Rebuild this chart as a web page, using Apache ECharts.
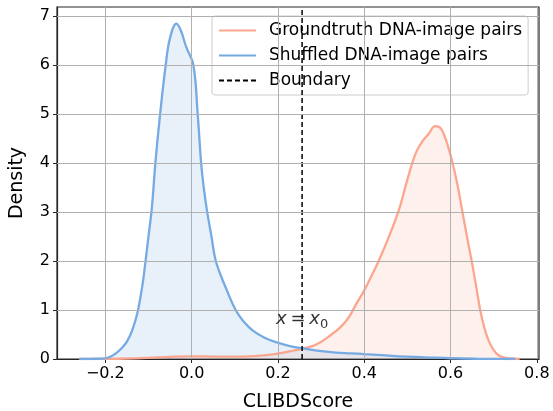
<!DOCTYPE html>
<html>
<head>
<meta charset="utf-8">
<script src="https://cdn.jsdelivr.net/npm/echarts@6/dist/echarts.min.js"></script>
<style>html,body{margin:0;padding:0;background:#fff}#c{width:553px;height:411px}</style>
</head>
<body>
<div id="c"></div>
<script>
// ---- data ----
var xTicks = [-0.2, 0.0, 0.2, 0.4, 0.6, 0.8];
var yTicks = [0, 1, 2, 3, 4, 5, 6, 7];
var boundaryX = 0.256;
var annotation = { x: 0.256, y: 0.8 };

var shuffledX = [-0.26,-0.22,-0.198,-0.185,-0.172,-0.16,-0.149,-0.138,-0.126,-0.115,-0.107,-0.1,-0.092,-0.084,-0.073,-0.06,-0.05,-0.035,-0.025,-0.012,0.004,0.014,0.022,0.028,0.036,0.046,0.056,0.077,0.102,0.122,0.142,0.17,0.197,0.225,0.254,0.29,0.334,0.37,0.40,0.44,0.48,0.54,0.60,0.66,0.75];
var shuffledY = [0,0.005,0.02,0.06,0.14,0.24,0.37,0.58,0.93,1.45,1.98,2.5,3.1,4.0,5.0,6.0,6.55,6.84,6.7,6.35,6.0,5.0,4.0,3.5,3.0,2.5,2.0,1.5,1.0,0.75,0.58,0.43,0.34,0.27,0.22,0.17,0.13,0.115,0.10,0.08,0.055,0.035,0.015,0.005,0];

var groundX = [-0.26,-0.2,-0.15,-0.1,-0.05,0.0,0.05,0.11,0.16,0.2,0.23,0.257,0.29,0.327,0.345,0.365,0.38,0.40,0.417,0.434,0.457,0.48,0.495,0.511,0.522,0.534,0.55,0.564,0.572,0.58,0.592,0.603,0.615,0.627,0.638,0.65,0.66,0.669,0.678,0.688,0.70,0.711,0.725,0.742,0.76];
var groundY = [0,0.003,0.01,0.025,0.045,0.055,0.05,0.05,0.07,0.11,0.16,0.21,0.3,0.52,0.65,0.86,1.1,1.40,1.7,2.01,2.49,3.03,3.5,3.99,4.25,4.43,4.6,4.75,4.74,4.67,4.4,4.06,3.6,3.03,2.5,1.95,1.45,0.99,0.65,0.38,0.18,0.075,0.03,0.01,0];

function zip(a, b) { return a.map(function (v, i) { return [v, b[i]]; }); }

var chart = echarts.init(document.getElementById('c'), null, { renderer: 'canvas' });
var FONT = 'DejaVu Sans';
var option = {
  animation: false,
  textStyle: { fontFamily: FONT },
  grid: { left: 57, right: 14, top: 7, bottom: 52, outerBoundsMode: 'none', containLabel: false,
    show: true, borderColor: '#262626', borderWidth: 1.2, backgroundColor: 'transparent' },
  legend: {
    orient: 'vertical', left: 212, top: 16,
    padding: [6, 6, 6, 6],
    itemWidth: 37, itemHeight: 14, itemGap: 8,
    itemStyle: { opacity: 0 },
    backgroundColor: 'rgba(255,255,255,0.8)', borderColor: '#cccccc', borderWidth: 1, borderRadius: 3,
    textStyle: { fontFamily: FONT, fontSize: 17, color: '#000', padding: [0, 0, 0, 8] },
    data: ['Groundtruth DNA-image pairs', 'Shuffled DNA-image pairs', 'Boundary']
  },
  xAxis: {
    type: 'value', min: -0.312, max: 0.805,
    name: 'CLIBDScore', nameLocation: 'middle', nameGap: 34,
    nameTextStyle: { fontFamily: FONT, fontSize: 19, color: '#000' },
    axisLine: { show: true, onZero: false, lineStyle: { color: '#262626', width: 1.2 } },
    axisTick: { show: true, length: 4, lineStyle: { color: '#262626' }, customValues: xTicks },
    axisLabel: { fontFamily: FONT, fontSize: 16, color: '#000', margin: 7, customValues: xTicks,
      formatter: function (v) { return (v < 0 ? '\u2212' : '') + Math.abs(v).toFixed(1); } },
    splitLine: { show: false }
  },
  yAxis: {
    type: 'value', min: 0, max: 7.18,
    name: 'Density', nameLocation: 'middle', nameGap: 30,
    nameTextStyle: { fontFamily: FONT, fontSize: 19, color: '#000' },
    axisLine: { show: true, onZero: false, lineStyle: { color: '#262626', width: 1.2 } },
    axisTick: { show: true, length: 4, lineStyle: { color: '#262626' }, customValues: yTicks },
    axisLabel: { fontFamily: FONT, fontSize: 16, color: '#000', margin: 7, customValues: yTicks },
    splitLine: { show: false }
  },
  series: [
    {
      name: 'Groundtruth DNA-image pairs', type: 'line', data: zip(groundX, groundY),
      smooth: 0.4, showSymbol: false, symbol: 'none',
      lineStyle: { color: '#fca68f', width: 2.3 }, itemStyle: { color: '#fca68f' },
      areaStyle: { color: 'rgba(252,166,143,0.24)' }, z: 3,
      markLine: {
        silent: true, symbol: 'none', label: { show: false },
        lineStyle: { color: '#b0b0b0', width: 1, type: 'solid' },
        data: xTicks.map(function (v) { return { xAxis: v }; }).concat(yTicks.slice(1).map(function (v) { return { yAxis: v }; }))
      }
    },
    {
      name: 'Shuffled DNA-image pairs', type: 'line', data: zip(shuffledX, shuffledY),
      smooth: 0.4, showSymbol: false, symbol: 'none',
      lineStyle: { color: '#76aae2', width: 2.3 }, itemStyle: { color: '#76aae2' },
      areaStyle: { color: 'rgba(118,170,226,0.24)' }, z: 3
    },
    {
      name: 'Boundary', type: 'line', data: [[boundaryX, 0], [boundaryX, 7.18]],
      showSymbol: false, symbol: 'none',
      lineStyle: { color: '#000', width: 1.5, type: [5, 3] }, itemStyle: { color: '#000' }, z: 4
    },
    {
      name: 'annot', type: 'scatter', data: [[annotation.x, annotation.y]], symbolSize: 0, z: 5,
      label: {
        show: true, position: 'inside',
        formatter: '{i|x} {n|=} {i|x}{s|0}',
        rich: {
          i: { fontFamily: FONT, fontStyle: 'italic', fontSize: 18, color: '#000' },
          n: { fontFamily: FONT, fontSize: 18, color: '#000' },
          s: { fontFamily: FONT, fontSize: 13, color: '#000', padding: [9, 0, 0, 0] }
        }
      }
    }
  ]
};
chart.setOption(option);
</script>
</body>
</html>
